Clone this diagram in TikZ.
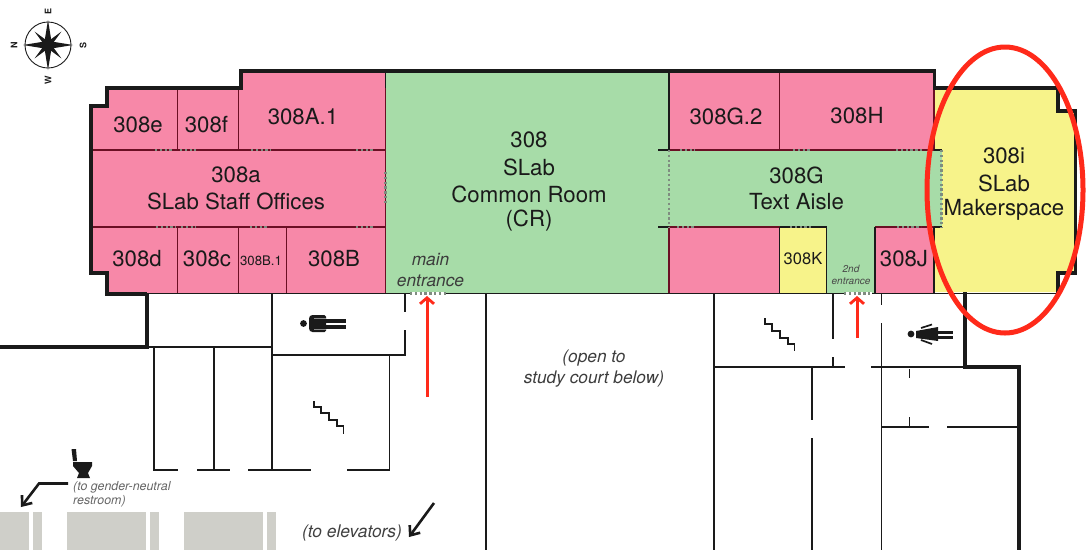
\documentclass[tikz,border=0pt]{standalone}
\usepackage{fontspec}
\setmainfont{TeX Gyre Heros}
\usetikzlibrary{arrows.meta}
\definecolor{pinkroom}{HTML}{F788A8}
\definecolor{greenroom}{HTML}{A7DCA8}
\definecolor{yellowroom}{HTML}{F7F38A}
\definecolor{redwall}{HTML}{6B0F24}
\definecolor{blockgray}{HTML}{CFCFC9}
\definecolor{doorgray}{HTML}{7F8C80}
\definecolor{alert}{HTML}{FF2A1A}
\definecolor{ink}{HTML}{1A1A1A}
\tikzset{
  rwall/.style={draw=redwall,line width=1.7pt},
  bwall/.style={draw=ink,line width=1.9pt},
  twall/.style={draw=ink,line width=3.8pt,line join=miter},
  door/.style={draw=doorgray,line width=2.2pt,dash pattern=on 2.4pt off 2.4pt},
  big/.style={font=\fontsize{22.2}{22.2}\selectfont,text=ink,inner sep=0pt},
  mid/.style={font=\fontsize{16.5}{16.5}\selectfont,text=ink,inner sep=0pt},
  note/.style={font=\fontsize{17.3}{17.3}\selectfont\itshape,text=ink!85,inner sep=0pt},
  tiny/.style={font=\fontsize{10}{10}\selectfont\itshape,text=ink!80,inner sep=0pt},
  hint/.style={font=\fontsize{12.4}{12.4}\selectfont\itshape,text=black!60,inner sep=0pt,anchor=west},
  redarrow/.style={draw=alert,line width=3pt,-{Straight Barb[length=6pt,width=14pt,line width=2.8pt]}},
  blackarrow/.style={draw=ink,line width=2.6pt,-{Straight Barb[length=8pt,width=13pt,line width=2.6pt]}},
  compassletter/.style={font=\fontsize{9}{9}\selectfont\bfseries,text=ink,inner sep=0pt,rotate=90},
}
\begin{document}
\begin{tikzpicture}[x=1pt,y=-1pt]
\useasboundingbox (0,0) rectangle (1089,550);
% room fills
\fill[pinkroom] (92,106) -- (107,106) -- (107,88) -- (241,88) -- (241,71) -- (386,71) -- (386,293) -- (107,293) -- (107,273) -- (92,273) -- cycle;
\fill[greenroom] (386,71) rectangle (669,293);
\fill[pinkroom] (669,71) rectangle (934,150);
\fill[yellowroom] (934,88) -- (1058,88) -- (1058,111) -- (1075,111) -- (1075,272) -- (1058,272) -- (1058,292) -- (934,292) -- cycle;
\fill[greenroom] (669,150) rectangle (942,227);
\fill[pinkroom] (669,227) rectangle (780,293);
\fill[yellowroom] (780,227) rectangle (827,293);
\fill[greenroom] (827,227) rectangle (875,293);
\fill[pinkroom] (875,227) rectangle (934,293);
% gray blocks
\fill[blockgray] (0,512) rectangle (29,550);
\fill[blockgray] (33,512) rectangle (42,550);
\fill[blockgray] (67,512) rectangle (146,550);
\fill[blockgray] (150,512) rectangle (159,550);
\fill[blockgray] (184,512) rectangle (263,550);
\fill[blockgray] (267,512) rectangle (276,550);
% interior red walls
\draw[rwall] (92,150) -- (386,150);
\draw[rwall] (92,227) -- (386,227);
\draw[rwall] (177.5,88) -- (177.5,150);
\draw[rwall] (238.5,88) -- (238.5,150);
\draw[rwall] (177.5,227) -- (177.5,293);
\draw[rwall] (238.5,227) -- (238.5,293);
\draw[rwall] (286.5,227) -- (286.5,293);
\draw[rwall] (385.5,88) -- (385.5,293);
\draw[rwall] (669,150) -- (934,150);
\draw[rwall] (669,227) -- (780,227);
\draw[rwall] (875,227) -- (934,227);
\draw[rwall] (779.5,71) -- (779.5,150);
\draw[rwall] (669,227) -- (669,293);
\draw[rwall] (934,88) -- (934,150);
\draw[bwall] (385.5,71) -- (385.5,88);
\draw[bwall] (669,71) -- (669,150);
\draw[bwall] (658,150) -- (669,150);
\draw[bwall] (658,227) -- (669,227);
\draw[bwall] (934,150) -- (942,150);
\draw[bwall] (934,227) -- (942,227);
\draw[bwall] (779.5,227) -- (779.5,293);
\draw[bwall] (780,227) -- (826.5,227);
\draw[bwall] (826.5,227) -- (826.5,293);
\draw[bwall] (875,227) -- (875,293);
\draw[bwall] (934,227) -- (934,293);
% outer heavy walls
\draw[twall] (147,294) -- (107,294) -- (107,273) -- (91,273) -- (91,106) -- (107,106) -- (107,88) -- (241,88) -- (241,71) -- (934.5,71) -- (934.5,88) -- (1058,88) -- (1058,111) -- (1075.5,111) -- (1075.5,273) -- (1058,273) -- (1058,293);
% lower floor
\draw[bwall] (147,293.5) -- (1059,293.5);
\draw[twall] (0,347) -- (147,347) -- (147,294);
\draw[twall] (965,292) -- (965,367) -- (1019,367) -- (1019,550);
\draw[bwall] (147,347) -- (272,347);
\draw[bwall] (272,294) -- (272,470);
\draw[bwall] (272,355) -- (405,355) -- (405,330);
\draw[bwall] (405,294) -- (405,312);
\draw[bwall] (389.5,355) -- (389.5,470);
\draw[bwall] (154,347) -- (154,470);
\draw[bwall] (214,347) -- (214,470);
\draw[bwall] (153.3,470) -- (178,470);
\draw[bwall] (197,470) -- (230,470);
\draw[bwall] (248,470) -- (311,470);
\draw[bwall] (347,470) -- (390.2,470);
\draw[bwall] (486,293) -- (486,550);
\draw[bwall] (714,293) -- (714,550);
\draw[bwall] (714,367) -- (845,367);
\draw[bwall] (871,367) -- (965,367);
\draw[bwall] (833,294) -- (833,339);
\draw[bwall] (833,357) -- (833,367);
\draw[bwall] (881.5,294) -- (881.5,305);
\draw[bwall] (881.5,323) -- (881.5,550);
\draw[bwall] (812,367) -- (812,420);
\draw[bwall] (812,438) -- (812,550);
\draw[bwall] (882,427) -- (929,427);
\draw[bwall] (947,427) -- (1018,427);
\draw[bwall] (909.5,369) -- (909.5,378);
\draw[bwall] (909.5,417) -- (909.5,427);
% doors
\foreach \a/\b in {155/173,180/196,251/271,356/374} \draw[door] (\a,150) -- (\b,150);
\foreach \a/\b in {156/176,181/196,250/269,356/374} \draw[door] (\a,227) -- (\b,227);
\draw[door] (385.5,172) -- (385.5,205);
\draw[door] (669,150) -- (669,227);
\foreach \a/\b in {680/695,793/810,896/922} \draw[door] (\a,150) -- (\b,150);
\foreach \a/\b in {677/695,790/811,897/921} \draw[door] (\a,227) -- (\b,227);
\draw[door] (941.5,150) -- (941.5,227);
\draw[white,line width=2.4pt] (410,293.5) -- (446,293.5);
\draw[door] (410,293.5) -- (446,293.5);
\draw[white,line width=2.4pt] (844,293.5) -- (872,293.5);
\draw[door] (844,293.5) -- (872,293.5);
% stairs
\draw[draw=ink,line width=1.9pt] (314,401) -- (314,407) -- (321,407) -- (321,413) -- (329,413) -- (329,420) -- (337,420) -- (337,426) -- (343.5,426) -- (343.5,434);
\draw[draw=ink,line width=1.9pt] (765,318) -- (765,324) -- (772,324) -- (772,331) -- (780,331) -- (780,338) -- (788,338) -- (788,344) -- (794.5,344) -- (794.5,351);
% man icon
\fill[ink] (303.5,323.5) circle (3.4);
\fill[ink,rounded corners=1.5pt] (309,317) -- (311,315) -- (326,315) -- (326,332) -- (311,332) -- (309,330) -- cycle;
\fill[ink] (326,319) rectangle (346,323);
\fill[ink] (326,325) rectangle (346,329);
\draw[black!45,line width=.7pt] (314,318) -- (326,318);
\draw[black!45,line width=.7pt] (314,329.5) -- (326,329.5);
% woman icon
\fill[ink] (911,334) circle (3.4);
\fill[ink] (916,331) -- (938,327) -- (938,341) -- (916,338) -- cycle;
\fill[ink] (938,331) rectangle (953,333.6);
\fill[ink] (938,336) rectangle (953,338.6);
\draw[ink,line width=1.7pt] (921,328) -- (932,324.5);
\draw[ink,line width=1.7pt] (921,340) -- (932,344);
% toilet icon
\fill[ink] (71.5,449) -- (76,449) -- (77,461) -- (73,461) -- cycle;
\fill[ink] (73,462) -- (92,462) -- (92,466) -- (88,473) -- (90,478) -- (77,478) -- (79,473) -- (73,466) -- cycle;
% compass
\draw[ink,line width=.9pt] (48,45) circle (23);
\foreach \r in {45,135,225,315}
  \fill[ink,rotate around={\r:(48,45)}] (48,45) -- (45.5,42.5) -- (48,26) -- (50.5,42.5) -- cycle;
\foreach \r in {0,90,180,270}
  \fill[ink,rotate around={\r:(48,45)}] (48,45) -- (44.5,41.5) -- (48,20) -- (51.5,41.5) -- cycle;
\node[compassletter] (cE) at (48,11) {E};
\node[compassletter] (cW) at (48,80) {W};
\node[compassletter] (cN) at (14,45) {N};
\node[compassletter] (cS) at (83,45) {S};
% labels
\node[big] (r308e) at (138,124.5) {308e};
\node[big] (r308f) at (206.5,124.5) {308f};
\node[big] (r308A1) at (303,117) {308A.1};
\node[big] (r308a) at (236,175) {308a};
\node[big] (r308aname) at (236,201) {SLab Staff Offices};
\node[big] (r308d) at (137,259) {308d};
\node[big] (r308c) at (207,259) {308c};
\node[font=\fontsize{13.2}{13.2}\selectfont,text=ink,inner sep=0pt] (r308B1) at (261,260.5) {308B.1};
\node[big] (r308B) at (334,259) {308B};
\node[big] (r308) at (529,140) {308};
\node[big] (r308n1) at (529,167) {SLab};
\node[big] (r308n2) at (529,194) {Common Room};
\node[big] (r308n3) at (529,221) {(CR)};
\node[note] (mainA) at (430.5,260) {main};
\node[note] (mainB) at (430.5,281) {entrance};
\node[big] (r308G2) at (726,116) {308G.2};
\node[big] (r308H) at (857,116) {308H};
\node[big] (r308G) at (796.5,175) {308G};
\node[big] (r308Gn) at (796.5,202) {Text Aisle};
\node[mid] (r308K) at (803,259) {308K};
\node[tiny] (secondA) at (851,269) {2nd};
\node[tiny] (secondB) at (851,281) {entrance};
\node[big] (r308J) at (904,259) {308J};
\node[big] (r308i) at (1004,156) {308i};
\node[big] (r308in1) at (1004,183) {SLab};
\node[big] (r308in2) at (1004,210) {Makerspace};
\node[note] (courtA) at (594,358) {(open to};
\node[note] (courtB) at (594,379) {study court below)};
\node[hint] (gnA) at (73,487) {(to gender-neutral};
\node[hint] (gnB) at (73,501.5) {restroom)};
\node[font=\fontsize{17.4}{17.4}\selectfont\itshape,text=black!75,inner sep=0pt] (elev) at (352,533) {(to elevators)};
% arrows
\coordinate (a1s) at (427,397); \coordinate (a1e) at (427,296);
\draw[redarrow] (a1s) -- (a1e);
\coordinate (a2s) at (857,338); \coordinate (a2e) at (857,296);
\draw[redarrow] (a2s) -- (a2e);
\coordinate (a3s) at (68,483.5); \coordinate (a3m) at (39,483.5); \coordinate (a3e) at (21,507);
\draw[blackarrow] (a3s) -- (a3m) -- (a3e);
\coordinate (a4s) at (434,503); \coordinate (a4e) at (409,537);
\draw[blackarrow] (a4s) -- (a4e);
% highlight ellipse
\draw[alert,line width=5pt] (1005,190) ellipse (78 and 143);
\end{tikzpicture}
\end{document}
